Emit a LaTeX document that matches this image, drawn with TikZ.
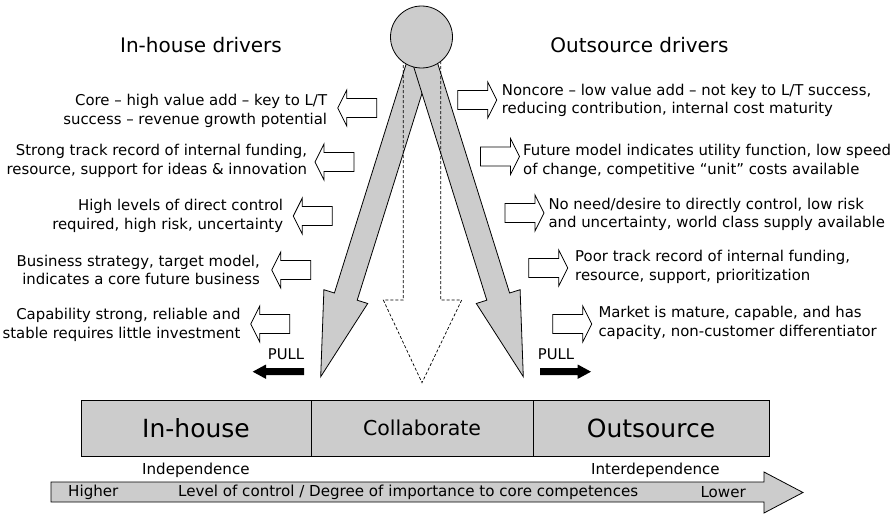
\documentclass[tikz,border=0pt]{standalone}
\usepackage{fontspec}
\setmainfont{DejaVu Sans}
\definecolor{boxgray}{RGB}{204,204,204}
\begin{document}
\begin{tikzpicture}[x=1pt,y=-1pt,
  ol/.style={draw=black,line width=0.8pt,line join=miter},
  grayfill/.style={ol,fill=boxgray},
  drvtxt/.style={inner sep=0pt,font=\fontsize{14.9}{18.3}\selectfont},
  drvL/.style={drvtxt,align=right,anchor=east},
  drvR/.style={drvtxt,align=left,anchor=west},
  heading/.style={inner sep=0pt,font=\fontsize{20}{23}\selectfont},
  boxlbl/.style={inner sep=0pt,font=\fontsize{25}{28}\selectfont},
  pulltxt/.style={inner sep=0pt,font=\fontsize{14.8}{16}\selectfont},
  smalltxt/.style={inner sep=0pt,font=\fontsize{15.1}{17}\selectfont},
  hollowL/.pic={\draw[ol,fill=white] (0,0) -- (9,-18) -- (9,-9.5) -- (39,-9.5) -- (39,9.5) -- (9,9.5) -- (9,18) -- cycle;},
  hollowR/.pic={\draw[ol,fill=white] (0,0) -- (-9,-18) -- (-9,-9.5) -- (-39,-9.5) -- (-39,9.5) -- (-9,9.5) -- (-9,18) -- cycle;}
]
\useasboundingbox (0,0) rectangle (895,514);

% headings
\node[heading] (hin) at (201,45) {In-house drivers};
\node[heading] (hout) at (639.5,45) {Outsource drivers};

% central arrows
\draw[grayfill] (410.1,51.4) -- (334.4,293.0) -- (323.9,289.7) -- (320.7,376.7) -- (367.7,303.5) -- (357.2,300.2) -- (432.9,58.6) -- cycle;
\draw[grayfill] (433.9,51.4) -- (509.6,293.0) -- (520.1,289.7) -- (523.3,376.7) -- (476.3,303.5) -- (486.8,300.2) -- (411.1,58.6) -- cycle;
\draw[draw=black,line width=0.7pt,dash pattern=on 3pt off 2pt] (403.3,60) -- (403.3,300) -- (383.3,300) -- (422,382.7) -- (461.7,300) -- (440.7,300) -- (440.7,60);
\node[circle,grayfill,minimum size=62pt,inner sep=0pt] (hub) at (421.5,37) {};

% in-house drivers
\pic at (337.7,108) {hollowL};
\pic at (315,162) {hollowL};
\pic at (293.3,216) {hollowL};
\pic at (271.7,270) {hollowL};
\pic at (250.7,324) {hollowL};
\node[drvL] (l1) at (327.3,111) {Core – high value add – key to L/T\\success – revenue growth potential};
\node[drvL] (l2) at (307.3,161) {Strong track record of internal funding,\\resource, support for ideas \& innovation};
\node[drvL] (l3) at (283.3,216) {High levels of direct control\\required, high risk, uncertainty};
\node[drvL] (l4) at (260,270) {Business strategy, target model,\\indicates a core future business};
\node[drvL] (l5) at (240.7,325) {Capability strong, reliable and\\stable requires little investment};

% outsource drivers
\pic at (496.7,100) {hollowR};
\pic at (519.5,156.5) {hollowR};
\pic at (544,213) {hollowR};
\pic at (567.7,268) {hollowR};
\pic at (591.7,324) {hollowR};
\node[drvR] (r1) at (501.7,100.5) {Noncore – low value add – not key to L/T success,\\reducing contribution, internal cost maturity};
\node[drvR] (r2) at (523,161) {Future model indicates utility function, low speed\\of change, competitive “unit” costs available};
\node[drvR] (r3) at (548.3,214.7) {No need/desire to directly control, low risk\\and uncertainty, world class supply available};
\node[drvR] (r4) at (575,267) {Poor track record of internal funding,\\resource, support, prioritization};
\node[drvR] (r5) at (598.3,323) {Market is mature, capable, and has\\capacity, non-customer differentiator};

% pull
\node[pulltxt] (pl) at (286,354.5) {PULL};
\node[pulltxt] (pr) at (556,354.5) {PULL};
\fill[black] (252.7,371.7) -- (266,364.5) -- (266,368.2) -- (304,368.2) -- (304,375.2) -- (266,375.2) -- (266,378.9) -- cycle;
\fill[black] (591,371.7) -- (577.7,364.5) -- (577.7,368.2) -- (540,368.2) -- (540,375.2) -- (577.7,375.2) -- (577.7,378.9) -- cycle;

% boxes
\draw[grayfill] (81,400) rectangle (311,456);
\draw[grayfill] (311,400) rectangle (533,456);
\draw[grayfill] (533,400) rectangle (769,456);
\node[boxlbl] (bin) at (196,428) {In-house};
\node[inner sep=0pt,font=\fontsize{20.5}{23}\selectfont] (bcol) at (422,428) {Collaborate};
\node[boxlbl] (bout) at (651,428) {Outsource};

% bottom scale
\node[smalltxt,anchor=west] (ind) at (142,470) {Independence};
\node[smalltxt,anchor=west] (inter) at (591,470) {Interdependence};
\draw[grayfill] (51,482) -- (764,482) -- (764,472) -- (803,492.5) -- (764,513) -- (764,502) -- (51,502) -- cycle;
\node[smalltxt,anchor=west] (hi) at (68,492) {Higher};
\node[smalltxt,anchor=west] (lev) at (178,492) {Level of control / Degree of importance to core competences};
\node[smalltxt,anchor=east] (lo) at (746,492) {Lower};
\end{tikzpicture}
\end{document}
